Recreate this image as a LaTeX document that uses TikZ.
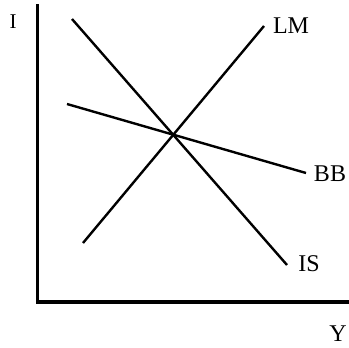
\documentclass[tikz,border=0pt]{standalone}
\usepackage{fontspec}
\setmainfont{Liberation Serif}
\usepackage{tikz}
\usetikzlibrary{positioning}
\tikzset{
    axis/.style={line width=3.5pt, line cap=rect},
    curve/.style={line width=2.4pt},
    lbl/.style={font=\fontsize{24}{28}\selectfont, inner sep=0pt},
}

\begin{document}
\begin{tikzpicture}[x=1pt, y=-1pt]
  \useasboundingbox (0,0) rectangle (349,348);

  % axes
  \coordinate (top) at (37.5,6);
  \coordinate (orig) at (37.5,302);
  \coordinate (right) at (349,302);
  \draw[axis] (top) -- (orig) -- (right);
  \node[lbl, font=\fontsize{21}{24}\selectfont] (ilbl) at (13,22) {I};
  \node[lbl] (ylbl) at (338,334) {Y};

  % curves
  \coordinate (is1) at (72,19);
  \coordinate (is2) at (287,265);
  \coordinate (lm1) at (83,243);
  \coordinate (lm2) at (264,26);
  \coordinate (bb1) at (67,104);
  \coordinate (bb2) at (306,173);
  \draw[curve] (is1) -- (is2);
  \draw[curve] (lm1) -- (lm2);
  \draw[curve] (bb1) -- (bb2);

  \node[lbl] (islbl) at (309,264) {IS};
  \node[lbl] (lmlbl) at (291,26) {LM};
  \node[lbl] (bblbl) at (330,174) {BB};

\end{tikzpicture}
\end{document}
